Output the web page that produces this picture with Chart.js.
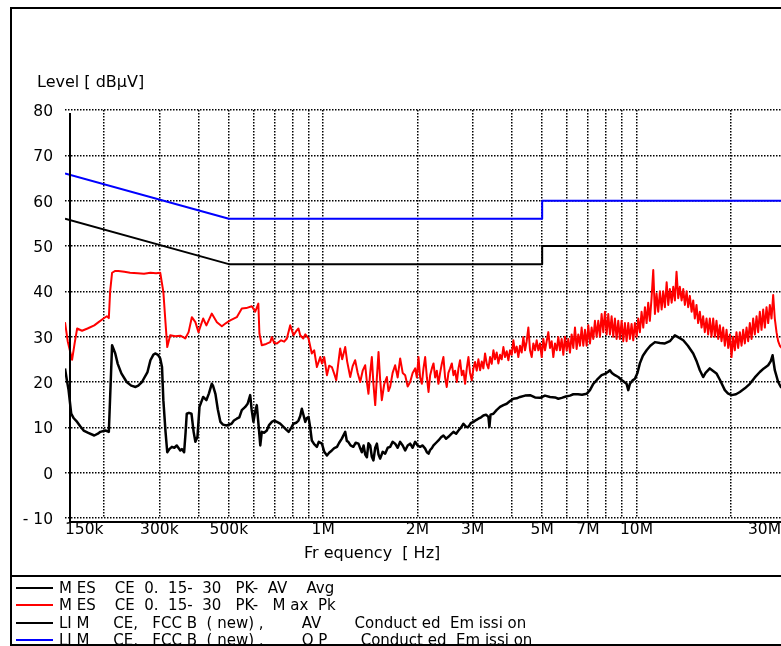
<!DOCTYPE html>
<html lang="en">
<head>
  <meta charset="UTF-8" />
  <title>Conducted Emission CE 0.15-30</title>
  <script src="https://cdn.jsdelivr.net/npm/chart.js"></script>
  <style>
    * {
      box-sizing: border-box;
    }

    html, body {
      margin: 0;
      padding: 0;
      background: #fff;
      overflow: hidden;
    }

    body {
      width: 781px;
      height: 646px;
      position: relative;
      font-family: 'DejaVu Sans', sans-serif;
      color: #000;
    }

    #chart {
      position: absolute;
      left: 0;
      top: 0;
    }

    .frame {
      position: absolute;
      left: 10px;
      top: 7px;
      width: 800px;
      height: 639px;
      border: 2px solid #000;
      border-right: none;
    }

    .sep {
      position: absolute;
      left: 10px;
      top: 575px;
      width: 800px;
      border-top: 2px solid #000;
    }

    .ytitle {
      position: absolute;
      left: 37px;
      top: 72px;
      font-size: 16px;
      white-space: pre;
    }

    .xtitle {
      position: absolute;
      left: 304px;
      top: 543px;
      font-size: 16px;
      white-space: pre;
    }

    #legend {
      position: absolute;
      left: 16px;
      top: 579.5px;
    }

    #legend .row {
      height: 17.25px;
      display: flex;
      align-items: center;
      white-space: pre;
      font-size: 15px;
    }

    #legend .swatch {
      width: 37px;
      border-top: 2px solid;
      margin-right: 6px;
    }
  </style>
</head>
<body>
  <canvas id="chart" width="830" height="646"></canvas>
  <div class="frame"></div>
  <div class="sep"></div>
  <div class="ytitle">Level [ dBµV]</div>
  <div class="xtitle">Fr equency  [ Hz]</div>
  <div id="legend"></div>

  <script>
    // frequency grid (MHz) and the labels printed under it
    const gridFreq  = [0.15, 0.2, 0.3, 0.4, 0.5, 0.6, 0.7, 0.8, 0.9, 1, 2, 3, 4, 5, 6, 7, 8, 9, 10, 20, 30];
    const gridLabel = ['150k', '', '300k', '', '500k', '', '', '', '', '1M', '2M', '3M', '', '5M', '', '7M', '', '', '10M', '', '30M '];

    // limit lines FCC B (new)
    const limFreq = [0.15, 0.5, 5, 5, 30];
    const limAv   = [56, 46, 46, 50, 50];
    const limQp   = [66, 56, 56, 60, 60];

    // MES CE 0.15-30 PK-MaxPk (MHz / dBuV)
    const pkFreq = [
      0.150, 0.153, 0.158, 0.161, 0.164, 0.170, 0.177, 0.186, 0.192, 0.199, 0.204, 0.207, 0.209, 0.212, 0.217, 0.222,
      0.232, 0.242, 0.256, 0.268, 0.281, 0.293, 0.302, 0.309, 0.314, 0.318, 0.325, 0.337, 0.350, 0.358, 0.363, 0.372,
      0.381, 0.391, 0.400, 0.414, 0.424, 0.441, 0.458, 0.475, 0.490, 0.505, 0.530, 0.550, 0.568, 0.592, 0.607, 0.621,
      0.626, 0.637, 0.658, 0.678, 0.686, 0.698, 0.712, 0.734, 0.751, 0.766, 0.785, 0.804, 0.820, 0.834, 0.845, 0.864,
      0.877, 0.898, 0.920, 0.936, 0.955, 0.979, 0.991, 1.008, 1.028, 1.045, 1.066, 1.085, 1.101, 1.117, 1.133, 1.150,
      1.176, 1.193, 1.220, 1.242, 1.265, 1.289, 1.313, 1.337, 1.362, 1.379, 1.395, 1.413, 1.430, 1.447, 1.466, 1.484,
      1.502, 1.520, 1.539, 1.566, 1.597, 1.616, 1.636, 1.666, 1.697, 1.729, 1.761, 1.794, 1.827, 1.861, 1.895, 1.930,
      1.966, 1.991, 2.015, 2.039, 2.065, 2.090, 2.116, 2.143, 2.169, 2.195, 2.223, 2.250, 2.277, 2.305, 2.333, 2.362,
      2.391, 2.420, 2.450, 2.480, 2.510, 2.542, 2.574, 2.605, 2.637, 2.671, 2.703, 2.735, 2.770, 2.803, 2.838, 2.873,
      2.908, 2.943, 2.980, 3.017, 3.053, 3.091, 3.129, 3.168, 3.207, 3.246, 3.286, 3.327, 3.368, 3.409, 3.451, 3.494,
      3.536, 3.580, 3.624, 3.669, 3.714, 3.760, 3.806, 3.853, 3.900, 3.948, 3.997, 4.046, 4.096, 4.146, 4.197, 4.249,
      4.301, 4.354, 4.408, 4.462, 4.517, 4.573, 4.629, 4.686, 4.744, 4.802, 4.861, 4.921, 4.982, 5.043, 5.105, 5.168,
      5.231, 5.296, 5.361, 5.427, 5.494, 5.562, 5.630, 5.699, 5.769, 5.841, 5.912, 5.985, 6.059, 6.133, 6.209, 6.285,
      6.363, 6.441, 6.520, 6.600, 6.682, 6.764, 6.847, 6.932, 7.017, 7.103, 7.191, 7.279, 7.369, 7.460, 7.551, 7.644,
      7.739, 7.834, 7.930, 8.028, 8.127, 8.226, 8.328, 8.430, 8.534, 8.639, 8.746, 8.853, 8.963, 9.073, 9.184, 9.298,
      9.412, 9.527, 9.645, 9.764, 9.884, 10.01, 10.13, 10.25, 10.38, 10.51, 10.64, 10.77, 10.90, 11.03, 11.17, 11.31,
      11.45, 11.59, 11.73, 11.88, 12.03, 12.17, 12.32, 12.48, 12.63, 12.78, 12.95, 13.10, 13.26, 13.42, 13.59, 13.75,
      13.93, 14.10, 14.27, 14.45, 14.62, 14.80, 14.99, 15.17, 15.35, 15.54, 15.73, 15.93, 16.13, 16.32, 16.52, 16.73,
      16.93, 17.14, 17.35, 17.57, 17.79, 18.00, 18.23, 18.45, 18.68, 18.91, 19.14, 19.38, 19.62, 19.86, 20.10, 20.35,
      20.60, 20.85, 21.11, 21.37, 21.64, 21.90, 22.17, 22.45, 22.72, 23.00, 23.29, 23.57, 23.86, 24.16, 24.45, 24.75,
      25.06, 25.37, 25.68, 26.00, 26.32, 26.64, 26.97, 27.30, 27.63, 27.98, 28.32, 28.67, 29.10, 30.00
    ];
    const pkLevel = [
      33.2, 29.0, 24.9, 28.5, 31.8, 31.3, 31.8, 32.5, 33.2, 34.0, 34.5, 34.1, 40.0, 44.1, 44.5, 44.5,
      44.3, 44.1, 44.0, 43.9, 44.1, 44.0, 44.1, 39.9, 33.0, 27.7, 30.3, 30.1, 30.2, 29.9, 29.6, 31.0,
      34.3, 33.2, 31.0, 34.0, 32.5, 35.1, 33.2, 32.3, 33.0, 33.6, 34.3, 36.2, 36.3, 36.7, 35.5, 37.3,
      30.7, 28.1, 28.4, 28.8, 29.9, 28.6, 28.5, 29.2, 28.9, 29.6, 32.5, 30.3, 31.2, 31.8, 30.3, 29.6,
      30.5, 29.6, 26.3, 27.0, 23.3, 25.5, 24.1, 25.5, 21.5, 23.6, 23.3, 21.8, 20.4, 24.0, 27.4, 25.0,
      27.7, 24.5, 21.1, 23.5, 24.8, 22.0, 20.0, 22.5, 23.7, 20.0, 17.4, 22.0, 25.5, 19.5, 14.9, 21.0,
      26.6, 20.5, 16.0, 19.5, 21.1, 18.0, 18.9, 22.0, 23.7, 21.0, 25.2, 22.0, 21.5, 19.0, 20.0, 22.0,
      23.0, 21.0, 25.5, 21.0, 19.6, 23.0, 25.5, 21.0, 17.8, 21.5, 23.0, 24.1, 21.0, 22.5, 19.6, 22.0,
      24.0, 25.5, 21.0, 18.9, 22.0, 23.0, 24.1, 21.5, 22.5, 20.0, 23.0, 24.8, 21.5, 22.5, 19.6, 23.0,
      25.5, 22.0, 20.4, 23.0, 24.4, 22.5, 25.0, 22.6, 24.5, 23.0, 26.3, 24.0, 23.0, 25.5, 24.0, 27.0,
      25.0, 26.5, 24.1, 26.0, 25.0, 27.7, 25.5, 26.8, 24.8, 27.0, 26.0, 29.2, 26.5, 27.8, 25.5, 28.0,
      26.5, 29.9, 27.0, 29.0, 32.0, 27.0, 25.5, 28.5, 27.0, 29.2, 27.0, 28.5, 25.5, 29.5, 27.0, 29.0,
      31.0, 27.5, 29.0, 25.5, 28.5, 27.0, 29.9, 27.0, 29.5, 26.0, 30.0, 27.0, 29.5, 26.5, 30.5, 27.5,
      32.0, 27.3, 30.5, 28.0, 32.0, 28.0, 31.5, 28.0, 32.5, 28.5, 32.0, 29.5, 33.5, 30.0, 33.5, 30.0,
      35.0, 31.0, 35.5, 30.5, 35.0, 30.5, 34.5, 30.0, 34.0, 29.5, 33.5, 29.5, 33.5, 29.0, 33.0, 29.0,
      33.0, 29.5, 32.8, 29.2, 33.0, 30.0, 34.0, 31.0, 35.5, 32.0, 36.5, 33.0, 37.5, 33.5, 38.5, 44.7,
      35.0, 39.5, 35.5, 40.0, 36.0, 40.0, 36.5, 42.0, 37.0, 40.5, 37.5, 41.0, 38.0, 44.3, 38.5, 41.0,
      38.0, 40.5, 37.0, 40.0, 36.5, 39.0, 35.5, 38.0, 34.0, 37.0, 33.0, 35.5, 32.0, 34.5, 31.0, 34.0,
      30.5, 34.0, 30.0, 34.0, 30.0, 33.5, 29.5, 32.5, 29.0, 32.0, 28.0, 31.5, 27.5, 30.5, 25.5, 30.0,
      27.0, 31.0, 27.5, 31.0, 28.0, 31.5, 28.5, 32.0, 29.0, 33.0, 29.5, 34.0, 30.5, 34.5, 31.0, 35.5,
      31.5, 36.0, 32.0, 36.5, 33.0, 37.0, 34.0, 39.2, 34.0, 31.0, 29.0, 28.0, 27.5, 27.5
    ];

    // MES CE 0.15-30 PK-AV Avg (MHz / dBuV)
    const avgFreq = [
      0.150, 0.152, 0.154, 0.157, 0.160, 0.164, 0.168, 0.172, 0.178, 0.186, 0.191, 0.1945, 0.202, 0.207, 0.212, 0.217,
      0.221, 0.227, 0.236, 0.244, 0.252, 0.257, 0.264, 0.275, 0.281, 0.287, 0.291, 0.297, 0.302, 0.306, 0.309, 0.314,
      0.318, 0.323, 0.329, 0.335, 0.341, 0.350, 0.354, 0.360, 0.364, 0.367, 0.373, 0.380, 0.386, 0.391, 0.397, 0.403,
      0.408, 0.414, 0.424, 0.432, 0.441, 0.445, 0.453, 0.461, 0.470, 0.479, 0.492, 0.510, 0.519, 0.530, 0.540, 0.550,
      0.564, 0.574, 0.585, 0.591, 0.599, 0.607, 0.614, 0.623, 0.630, 0.637, 0.648, 0.661, 0.672, 0.686, 0.698, 0.712,
      0.729, 0.747, 0.762, 0.776, 0.792, 0.804, 0.820, 0.834, 0.845, 0.855, 0.867, 0.877, 0.886, 0.898, 0.909, 0.920,
      0.936, 0.955, 0.968, 0.991, 1.008, 1.028, 1.045, 1.066, 1.085, 1.107, 1.125, 1.147, 1.176, 1.190, 1.203, 1.223,
      1.248, 1.270, 1.296, 1.313, 1.329, 1.346, 1.362, 1.379, 1.395, 1.413, 1.430, 1.447, 1.466, 1.484, 1.502, 1.520,
      1.549, 1.577, 1.607, 1.636, 1.666, 1.697, 1.729, 1.761, 1.794, 1.827, 1.861, 1.895, 1.930, 1.966, 2.003, 2.039,
      2.077, 2.116, 2.143, 2.169, 2.195, 2.223, 2.250, 2.294, 2.333, 2.379, 2.420, 2.467, 2.510, 2.560, 2.605, 2.657,
      2.703, 2.757, 2.803, 2.860, 2.908, 2.966, 3.017, 3.076, 3.129, 3.191, 3.246, 3.310, 3.368, 3.393, 3.421, 3.494,
      3.575, 3.669, 3.760, 3.853, 3.948, 4.046, 4.146, 4.249, 4.408, 4.573, 4.744, 4.921, 5.105, 5.296, 5.494, 5.630,
      5.773, 5.948, 6.133, 6.285, 6.506, 6.700, 6.932, 7.103, 7.279, 7.483, 7.739, 7.930, 8.108, 8.226, 8.347, 8.534,
      8.746, 8.983, 9.298, 9.412, 9.527, 9.700, 9.884, 10.07, 10.25, 10.48, 10.77, 11.07, 11.45, 11.88, 12.32, 12.78,
      13.26, 13.66, 14.10, 14.59, 15.17, 15.57, 15.93, 16.32, 16.61, 17.14, 17.52, 18.00, 18.45, 19.14, 19.57, 20.10,
      20.77, 21.37, 22.17, 23.00, 23.86, 24.75, 25.49, 26.32, 26.83, 27.18, 27.63, 28.32, 28.88, 30.00
    ];
    const avgLevel = [
      23.0, 20.5, 18.2, 13.0, 12.0, 11.2, 10.2, 9.3, 8.8, 8.2, 8.6, 9.0, 9.3, 9.0, 28.1, 26.3,
      24.0, 21.9, 20.0, 19.2, 18.9, 19.2, 20.0, 22.2, 24.8, 26.0, 26.3, 26.0, 25.2, 23.3, 16.0, 9.0,
      4.5, 5.2, 5.7, 5.5, 6.0, 4.9, 5.2, 4.5, 9.0, 13.0, 13.2, 13.0, 9.0, 6.8, 7.9, 14.5,
      15.5, 16.7, 16.0, 17.5, 19.6, 19.2, 17.4, 14.0, 11.2, 10.6, 10.4, 10.8, 11.5, 11.9, 12.2, 13.8,
      14.5, 15.2, 17.1, 14.0, 11.2, 13.5, 14.9, 10.0, 6.0, 9.0, 8.8, 9.3, 10.5, 11.2, 11.5, 11.2,
      10.8, 10.1, 9.5, 9.0, 10.0, 10.8, 11.0, 11.5, 12.5, 14.1, 12.5, 11.2, 12.0, 12.3, 10.0, 7.1,
      6.3, 5.7, 6.8, 6.4, 4.6, 3.8, 4.4, 4.9, 5.4, 5.7, 6.6, 7.5, 9.0, 7.0, 6.8, 6.0,
      5.7, 6.6, 6.4, 5.4, 4.5, 6.0, 4.0, 3.4, 6.5, 6.0, 3.5, 2.7, 5.5, 6.4, 4.0, 3.1,
      4.6, 4.2, 5.5, 5.7, 6.8, 6.4, 5.5, 6.8, 6.0, 4.9, 6.0, 6.4, 5.5, 6.8, 6.0, 5.7,
      6.0, 5.3, 4.5, 4.2, 5.0, 5.4, 6.0, 6.6, 7.1, 7.8, 8.2, 7.5, 7.9, 8.5, 9.0, 8.6,
      9.3, 10.0, 10.8, 10.1, 10.1, 11.0, 11.2, 11.6, 11.9, 12.2, 12.6, 12.8, 12.3, 10.1, 12.8, 13.0,
      13.8, 14.5, 14.9, 15.2, 15.8, 16.3, 16.4, 16.7, 17.0, 17.1, 16.6, 16.5, 17.0, 16.7, 16.6, 16.3,
      16.5, 16.8, 17.0, 17.3, 17.3, 17.2, 17.4, 18.2, 19.6, 20.5, 21.5, 21.8, 22.2, 22.6, 22.0, 21.5,
      21.1, 20.4, 19.6, 18.2, 19.6, 20.3, 20.7, 22.0, 24.1, 25.8, 27.0, 28.0, 28.8, 28.6, 28.5, 29.0,
      30.3, 29.8, 29.2, 28.0, 26.3, 24.5, 22.6, 21.1, 22.0, 23.0, 22.5, 21.9, 20.5, 18.2, 17.5, 17.1,
      17.3, 17.8, 18.6, 19.6, 21.0, 22.2, 23.0, 23.7, 24.6, 25.9, 22.6, 20.0, 18.9, 18.5
    ];

    const toPoints = (freq, level) => freq.map((f, i) => ({ x: f, y: level[i] }));

    const datasets = [
      {
        label: 'M ES    CE  0.  15-  30   PK-  AV    Avg',
        data: toPoints(avgFreq, avgLevel),
        borderColor: '#000000',
        borderWidth: 2.5
      },
      {
        label: 'M ES    CE  0.  15-  30   PK-   M ax  Pk',
        data: toPoints(pkFreq, pkLevel),
        borderColor: '#ff0000',
        borderWidth: 2
      },
      {
        label: 'LI M     CE,   FCC B  ( new) ,        AV       Conduct ed  Em issi on',
        data: toPoints(limFreq, limAv),
        borderColor: '#000000',
        borderWidth: 2
      },
      {
        label: 'LI M     CE,   FCC B  ( new) ,        Q P       Conduct ed  Em issi on',
        data: toPoints(limFreq, limQp),
        borderColor: '#0000ff',
        borderWidth: 2
      }
    ];

    // solid axis lines, drawn a little inside the grid like the original plot
    const axisLines = {
      id: 'axisLines',
      afterDatasetsDraw(chart) {
        const { ctx, chartArea } = chart;
        const x0 = chartArea.left + 5;
        const y0 = chartArea.bottom + 4;
        ctx.save();
        ctx.strokeStyle = '#000';
        ctx.lineWidth = 2;
        ctx.beginPath();
        ctx.moveTo(x0, chartArea.top + 3);
        ctx.lineTo(x0, y0);
        ctx.lineTo(chartArea.right, y0);
        ctx.stroke();
        ctx.restore();
      }
    };

    const tickFont = { family: "'DejaVu Sans', sans-serif", size: 15.5 };

    const chart = new Chart(document.getElementById('chart'), {
      type: 'line',
      data: { datasets },
      options: {
        responsive: false,
        animation: false,
        devicePixelRatio: 1,
        layout: { padding: { left: 0, top: 110, right: 44, bottom: 78 } },
        elements: {
          point: { radius: 0 },
          line: { tension: 0, borderJoinStyle: 'round' }
        },
        plugins: {
          legend: { display: false },
          tooltip: { enabled: false }
        },
        scales: {
          x: {
            type: 'logarithmic',
            min: 0.15,
            max: 30,
            afterBuildTicks: (axis) => {
              axis.ticks = gridFreq.map(v => ({ value: v }));
            },
            afterFit: (axis) => { axis.height = 50; },
            ticks: {
              autoSkip: false,
              maxRotation: 0,
              minRotation: 0,
              align: 'inner',
              padding: 3,
              color: '#000',
              font: tickFont,
              callback: (value) => {
                const i = gridFreq.indexOf(value);
                return i >= 0 ? gridLabel[i] : '';
              }
            },
            grid: {
              color: (c) => (c.tick && c.tick.value === 0.15) ? 'rgba(0,0,0,0)' : '#000',
              lineWidth: 1.5,
              drawTicks: false
            },
            border: { display: false, dash: [1.5, 1.5] }
          },
          y: {
            min: -10,
            max: 80,
            afterFit: (axis) => { axis.width = 65; },
            ticks: {
              stepSize: 10,
              padding: 12,
              labelOffset: 2,
              color: '#000',
              font: tickFont,
              callback: (v) => v < 0 ? '- ' + Math.abs(v) : String(v)
            },
            grid: {
              color: '#000',
              lineWidth: 1.5,
              drawTicks: false
            },
            border: { display: false, dash: [1.5, 1.5] }
          }
        }
      },
      plugins: [axisLines]
    });

    // legend box below the plot, built from the datasets
    const legend = document.getElementById('legend');
    chart.data.datasets.forEach(ds => {
      const row = document.createElement('div');
      row.className = 'row';
      const swatch = document.createElement('span');
      swatch.className = 'swatch';
      swatch.style.borderTopColor = ds.borderColor;
      const text = document.createElement('span');
      text.textContent = ds.label;
      row.appendChild(swatch);
      row.appendChild(text);
      legend.appendChild(row);
    });
  </script>
</body>
</html>
